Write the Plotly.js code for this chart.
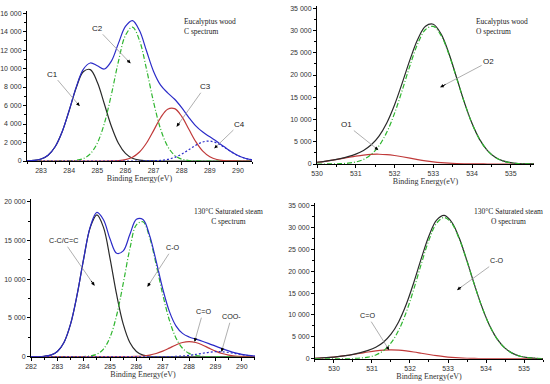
<!DOCTYPE html>
<html><head><meta charset="utf-8">
<script src="https://cdn.plot.ly/plotly-3.0.1.min.js"></script>
<style>html,body{margin:0;padding:0;background:#fff}#chart{width:550px;height:384px}</style>
</head><body><div id="chart"></div>
<script>
// ---------- Panel 1: Eucalyptus wood, C spectrum ----------
const euC_x = [282.5,282.75,283,283.25,283.5,283.75,284,284.25,284.5,284.75,285,285.25,285.5,285.75,286,286.25,286.5,286.75,287,287.25,287.5,287.75,288,288.25,288.5,288.75,289,289.25,289.5,289.75,290,290.25,290.5];
const euC_C1 = [15,63,218,632,1543,3166,5461,7918,9650,9888,8517,6166,3753,1920,826,299,91,23,5,1,0,0,0,0,0,0,0,0,0,0,0,0,0];
const euC_C2 = [0,0,0,0,0,4,19,76,266,782,1940,4066,7198,10760,13582,14482,13041,9920,6373,3457,1585,614,200,55,13,2,0,0,0,0,0,0,0];
const euC_C3 = [0,0,0,0,0,0,0,0,0,0,0,2,11,43,145,408,971,1946,3287,4677,5607,5666,4823,3460,2092,1065,457,165,50,13,3,1,0];
const euC_C4 = [0,0,0,0,0,0,0,0,0,0,0,0,0,0,0,0,1,7,25,72,182,397,747,1214,1702,2061,2154,1943,1513,1017,590,296,128];
const euC_env = [15,63,218,632,1543,3170,5480,7994,9916,10600,10300,9950,10800,12723,14553,15189,14104,11896,9690,8207,7374,6677,5770,4729,3807,3128,2611,2108,1563,1030,593,297,128];

// ---------- Panel 2: Eucalyptus wood, O spectrum ----------
const euO_x = [530,530.2,530.4,530.6,530.8,531,531.2,531.4,531.6,531.8,532,532.2,532.4,532.6,532.8,533,533.2,533.4,533.6,533.8,534,534.2,534.4,534.6,534.8,535,535.2,535.4,535.6];
const euO_O1 = [396,598,855,1155,1472,1773,2016,2165,2196,2104,1904,1627,1313,1001,721,490,315,191,109,59,30,15,7,3,1,0,0,0,0];
const euO_O2 = [2,7,23,67,182,454,1032,2149,4092,7133,11371,16594,22150,27054,30234,30914,28920,24754,19384,13891,9108,5462,2998,1506,691,291,112,39,13];
const euO_env = [398,605,878,1222,1654,2227,3048,4314,6288,9237,13275,18221,23463,28055,30955,31404,29235,24945,19493,13950,9138,5477,3005,1509,692,291,112,39,13];

// ---------- Panel 3: 130°C saturated steam, C spectrum ----------
const stC_x = [282,282.25,282.5,282.75,283,283.25,283.5,283.75,284,284.25,284.5,284.75,285,285.25,285.5,285.75,286,286.25,286.5,286.75,287,287.25,287.5,287.75,288,288.25,288.5,288.75,289,289.25,289.5,289.75,290,290.25,290.5];
const stC_CC = [2,11,51,203,669,1837,4205,8003,12671,16693,18300,16693,12671,8003,4205,1837,669,203,51,11,2,0,0,0,0,0,0,0,0,0,0,0,0,0,0];
const stC_CO = [0,0,0,0,0,0,0,4,20,87,321,985,2517,5349,9456,13909,17026,17410,15405,11901,8026,4724,2427,1089,427,146,43,11,3,0,0,0,0,0,0];
const stC_CdO = [0,0,0,0,0,0,0,0,0,0,0,0,0,0,4,12,36,91,206,409,717,1111,1519,1832,1950,1832,1519,1111,717,409,206,91,36,12,4];
const stC_COO = [0,0,0,0,0,0,0,0,0,0,0,0,0,0,0,0,0,0,0,1,5,14,38,86,169,291,436,567,643,634,544,406,264,150,74];
const stC_env = [2,11,51,203,669,1837,4205,8007,12691,16780,18621,17678,15188,13352,13665,15758,17731,17704,15662,12322,8750,5849,3984,3007,2546,2269,1998,1689,1363,1043,750,497,300,162,78];

// ---------- Panel 4: 130°C saturated steam, O spectrum ----------
const stO_x = [529.5,529.7,529.9,530.1,530.3,530.5,530.7,530.9,531.1,531.3,531.5,531.7,531.9,532.1,532.3,532.5,532.7,532.9,533.1,533.3,533.5,533.7,533.9,534.1,534.3,534.5,534.7,534.9,535.1,535.3,535.5];
const stO_CdO = [103,181,300,468,688,954,1245,1532,1776,1942,2000,1942,1776,1532,1245,954,688,468,300,181,103,55,28,13,6,3,1,0,0,0,0];
const stO_CO = [0,0,1,5,16,49,139,359,847,1826,3595,6463,10605,15892,21748,27174,31002,32297,30908,27303,22264,16761,11647,7471,4425,2419,1220,568,245,97,36];
const stO_env = [103,181,301,473,704,1003,1384,1891,2623,3768,5595,8405,12381,17424,22993,28128,31690,32765,31208,27484,22367,16816,11675,7484,4431,2422,1221,568,245,97,36];

const xTitle = 'Binding Energy(eV)';

// ---------- styling ----------
const BLUE = '#2b2bc8', GREEN = '#2fb52f', RED = '#c03a3a', BLACK = '#2a2a2a';
const DASHDOT = '5px,2px,1px,2px', DOT = '2px,2px';
const SANS = 'Liberation Sans, Arial, sans-serif';
const SERIF = 'Liberation Serif, Times New Roman, serif';

function tr(x, y, xa, ya, color, dash) {
  return {x: x, y: y, xaxis: xa, yaxis: ya, type: 'scatter', mode: 'lines',
    line: {color: color, width: 1.2, dash: dash, shape: 'spline', smoothing: 1},
    hoverinfo: 'skip', showlegend: false};
}

const data = [
  tr(euC_x, euC_C1, 'x', 'y', BLACK, 'solid'),
  tr(euC_x, euC_C2, 'x', 'y', GREEN, DASHDOT),
  tr(euC_x, euC_C3, 'x', 'y', RED, 'solid'),
  tr(euC_x, euC_C4, 'x', 'y', BLUE, DOT),
  tr(euC_x, euC_env, 'x', 'y', BLUE, 'solid'),

  tr(euO_x, euO_O1, 'x2', 'y2', RED, 'solid'),
  tr(euO_x, euO_env, 'x2', 'y2', BLACK, 'solid'),
  tr(euO_x, euO_O2, 'x2', 'y2', GREEN, DASHDOT),

  tr(stC_x, stC_CC, 'x3', 'y3', BLACK, 'solid'),
  tr(stC_x, stC_CO, 'x3', 'y3', GREEN, DASHDOT),
  tr(stC_x, stC_CdO, 'x3', 'y3', RED, 'solid'),
  tr(stC_x, stC_COO, 'x3', 'y3', BLUE, DOT),
  tr(stC_x, stC_env, 'x3', 'y3', BLUE, 'solid'),

  tr(stO_x, stO_CdO, 'x4', 'y4', RED, 'solid'),
  tr(stO_x, stO_env, 'x4', 'y4', BLACK, 'solid'),
  tr(stO_x, stO_CO, 'x4', 'y4', GREEN, DASHDOT)
];

function xax(domain, range, tick0, anchor) {
  return {domain: domain, range: range, anchor: anchor, tick0: tick0, dtick: 1,
    ticks: 'outside', ticklen: 3, tickwidth: 1, tickcolor: '#000',
    showline: true, linecolor: '#000', linewidth: 1, mirror: false,
    showgrid: false, zeroline: false, fixedrange: true,
    tickfont: {family: SANS, size: 7, color: '#333'},
    minor: {ticks: 'outside', ticklen: 2, tick0: tick0 + 0.5, dtick: 1, tickcolor: '#000', showgrid: false},
    title: {text: xTitle, font: {family: SERIF, size: 8, color: '#333'}, standoff: 1}};
}
function yax(domain, range, dtick, anchor) {
  return {domain: domain, range: range, anchor: anchor, tick0: 0, dtick: dtick,
    ticks: 'outside', ticklen: 3, tickwidth: 1, tickcolor: '#000',
    showline: true, linecolor: '#000', linewidth: 1,
    showgrid: false, zeroline: false, fixedrange: true,
    exponentformat: 'none', separatethousands: true,
    tickfont: {family: SANS, size: 7, color: '#333'},
    minor: {ticks: 'outside', ticklen: 2, dtick: dtick / 2, tickcolor: '#000', showgrid: false}};
}

const annotations = [];
function label(n, text, tx, ty, px, py, fs) {
  const xr = n === 1 ? 'x' : 'x' + n, yr = n === 1 ? 'y' : 'y' + n;
  annotations.push({xref: xr, yref: yr, axref: xr, ayref: yr, x: px, y: py, ax: tx, ay: ty,
    text: text, showarrow: true, arrowhead: 0, arrowwidth: 0.8, arrowcolor: '#9a9a9a',
    font: {family: SANS, size: fs, color: '#222'}});
  annotations.push({xref: xr, yref: yr, axref: xr, ayref: yr, x: px, y: py,
    ax: px + 0.14 * (tx - px), ay: py + 0.14 * (ty - py),
    text: '', showarrow: true, arrowhead: 2, arrowsize: 0.7, arrowwidth: 1, arrowcolor: '#000', standoff: 0});
}
function note(n, text, x, y, xanchor, align) {
  const xr = n === 1 ? 'x' : 'x' + n, yr = n === 1 ? 'y' : 'y' + n;
  annotations.push({xref: xr, yref: yr, x: x, y: y, xanchor: xanchor, yanchor: 'top', align: align,
    text: text, showarrow: false, font: {family: SERIF, size: 7.5, color: '#222'}});
}

label(1, 'C1', 283.41, 9400, 284.37, 5950, 8);
label(1, 'C2', 284.99, 14350, 286.18, 10560, 8);
label(1, 'C3', 288.83, 8030, 287.82, 3710, 8);
label(1, 'C4', 290.06, 4000, 289.16, 1370, 8);
note(1, 'Eucalyptus wood<br>C spectrum', 288.0, 15750, 'left', 'left');

label(2, 'O2', 534.43, 23000, 533.18, 17250, 8);
label(2, 'O1', 530.77, 8770, 531.58, 3150, 8);
note(2, 'Eucalyptus wood<br>O spectrum', 534.05, 33400, 'left', 'left');

label(3, 'C-C/C=C', 283.23, 14970, 284.41, 9160, 7.2);
label(3, 'C-O', 287.38, 14060, 286.42, 9030, 7.2);
label(3, 'C=O', 288.53, 5810, 288.21, 1940, 7.2);
label(3, 'COO-', 289.61, 5160, 289.23, 650, 7.2);
note(3, '130°C Saturated steam<br>C spectrum', 289.5, 19600, 'center', 'center');

label(4, 'C-O', 534.3, 22420, 533.24, 15710, 7.2);
label(4, 'C=O', 530.88, 9840, 531.45, 1990, 7.2);
note(4, '130°C Saturated steam<br>O spectrum', 534.6, 35200, 'center', 'center');

const layout = {
  width: 550, height: 384, margin: {l: 0, r: 0, t: 0, b: 0},
  paper_bgcolor: '#fff', plot_bgcolor: 'rgba(0,0,0,0)',
  showlegend: false, separators: '. ',
  xaxis: xax([0.0491, 0.4582], [282.5, 290.5], 283, 'y'),
  yaxis: yax([0.5807, 0.9708], [0, 16200], 2000, 'x'),
  xaxis2: xax([0.5764, 0.9709], [530, 535.6], 530, 'y2'),
  yaxis2: yax([0.5729, 0.9831], [0, 35400], 5000, 'x2'),
  xaxis3: xax([0.0564, 0.4636], [282, 290.5], 282, 'y3'),
  yaxis3: yax([0.0711, 0.4807], [0, 20300], 5000, 'x3'),
  xaxis4: xax([0.5727, 0.9873], [529.5, 535.5], 530, 'y4'),
  yaxis4: yax([0.0659, 0.4701], [0, 35500], 5000, 'x4'),
  annotations: annotations
};

Plotly.newPlot('chart', data, layout, {displayModeBar: false, staticPlot: true});
</script>
</body></html>
